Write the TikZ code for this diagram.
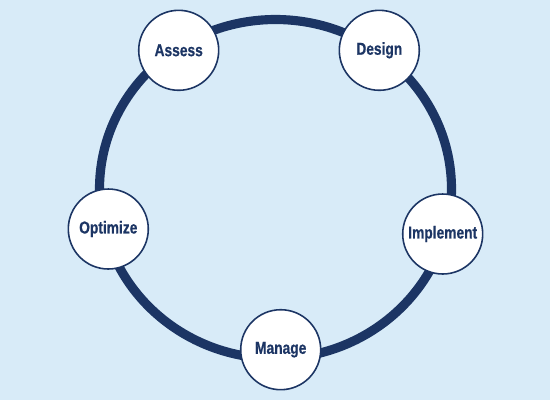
\documentclass[tikz,border=0pt]{standalone}
\usepackage{fontspec}
\setmainfont{Liberation Sans}[FakeStretch=0.8, BoldFeatures={FakeBold=0.6}]
\definecolor{paleblue}{HTML}{D8EBF8}
\definecolor{navy}{HTML}{1C3564}
\begin{document}
\begin{tikzpicture}[x=0.02cm, y=-0.02cm,
  phase/.style={draw=navy, line width=0.9pt, fill=white, circle, inner sep=0pt,
    minimum size=1.6cm, text=navy, font=\fontsize{9.8}{11}\selectfont\bfseries},
  ring/.style={draw=navy, line width=5.2pt}]
\fill[paleblue] (0,0) rectangle (550,400);
\useasboundingbox (0,0) rectangle (550,400);
% cycle ring
\draw[ring] (275.5,189) ellipse [x radius=176, y radius=169.5];
% phases
\node[phase] at (178.7,50.3) (assess) {Assess};
\node[phase] at (379.3,50.3) (design) {Design};
\node[phase] at (442.7,234) (implement) {Implement};
\node[phase] at (280.7,349.7) (manage) {Manage};
\node[phase] at (108.3,229) (optimize) {Optimize};
\end{tikzpicture}
\end{document}
